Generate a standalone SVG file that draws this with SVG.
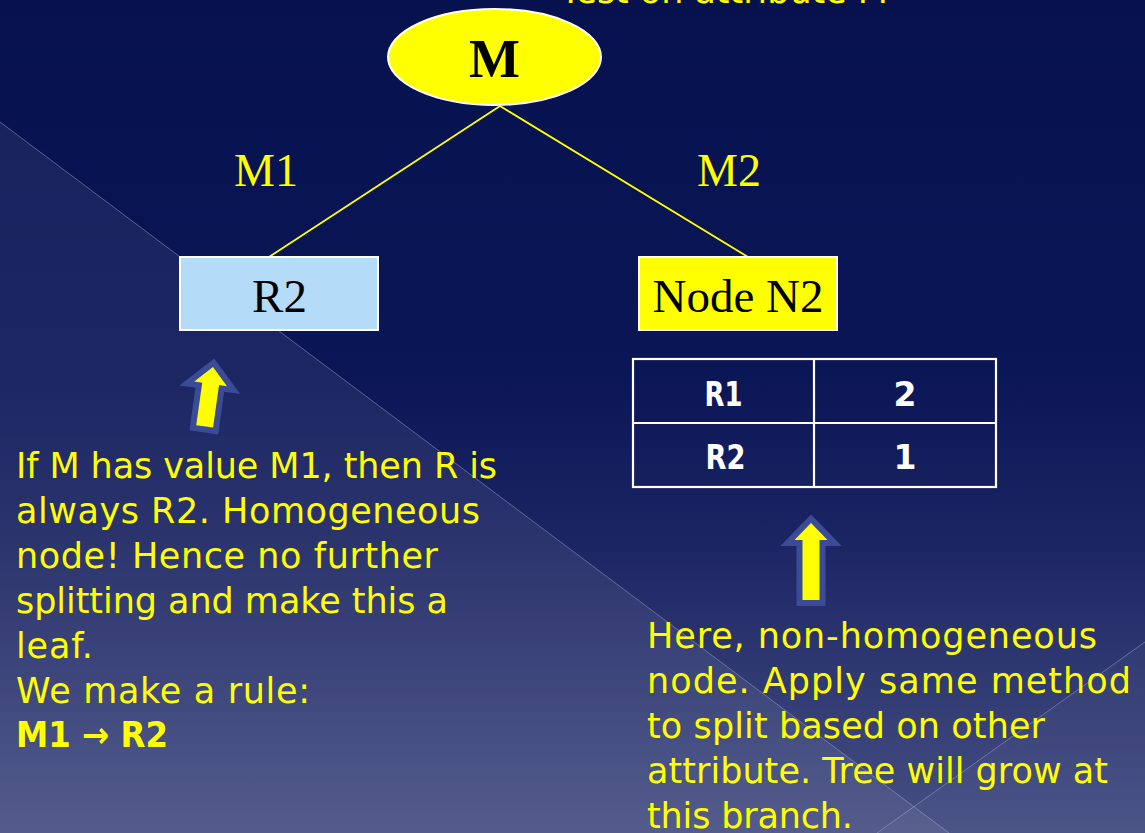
<svg xmlns="http://www.w3.org/2000/svg" width="1145" height="833" viewBox="0 0 1145 833">
  <defs>
    <linearGradient id="bg" x1="0" y1="0" x2="0" y2="1">
      <stop offset="0" stop-color="#06114e"/>
      <stop offset="0.45" stop-color="#0b1657"/>
      <stop offset="0.65" stop-color="#1c2563"/>
      <stop offset="1" stop-color="#465083"/>
    </linearGradient>
    <!-- block arrow pointing up, tip at origin -->
    <path id="upArrow" d="M0 0 L16.5 17 L8.5 17 L8.5 77 L-8.5 77 L-8.5 17 L-16.5 17 Z"/>
    <path id="upArrowShort" d="M0 0 L16.5 17 L8.5 17 L8.5 60 L-8.5 60 L-8.5 17 L-16.5 17 Z"/>
    <style>
      .note { font-family: "DejaVu Sans", "Liberation Sans", sans-serif; font-size: 35px; fill: #ffff00; }
      .noteBold { font-weight: bold; }
      .serif { font-family: "Liberation Serif", "Times New Roman", serif; fill: #000000; text-anchor: middle; }
      .branch { font-family: "Liberation Serif", "Times New Roman", serif; font-size: 46px; fill: #ffff00; text-anchor: middle; }
      .edge { stroke: #ffff00; stroke-width: 1.8; fill: none; }
      .box { stroke: #ffffff; stroke-width: 2; }
      .grid { stroke: #ffffff; stroke-width: 2.2; fill: none; }
      .cell { font-family: "DejaVu Sans", "Liberation Sans", sans-serif; font-weight: bold; font-size: 33px; fill: #ffffff; text-anchor: middle; }
      .arrow { fill: #ffff00; stroke: #3b4b97; stroke-width: 12; stroke-linejoin: miter; paint-order: stroke; }
      .facet { stroke: #aab3d8; stroke-opacity: 0.45; stroke-width: 1; fill: none; }
    </style>
  </defs>

  <!-- backdrop -->
  <g id="background">
    <rect x="0" y="0" width="1145" height="833" fill="url(#bg)"/>
    <polygon points="0,122 949,833 0,833" fill="#ffffff" fill-opacity="0.07"/>
    <polygon points="877,833 1145,642 1145,833" fill="#ffffff" fill-opacity="0.03"/>
    <line class="facet" x1="0" y1="122" x2="949" y2="833"/>
    <line class="facet" x1="877" y1="833" x2="1145" y2="642"/>
  </g>

  <!-- heading, cut at the top edge -->
  <text class="note" x="560" y="3" textLength="328" lengthAdjust="spacingAndGlyphs">Test on attribute M</text>

  <!-- tree edges -->
  <g id="connectors">
    <line class="edge" x1="500" y1="106" x2="269" y2="257"/>
    <line class="edge" x1="500" y1="106" x2="748" y2="257"/>
  </g>

  <g id="node-M">
    <ellipse cx="494.5" cy="57" rx="106.5" ry="48" fill="#ffff00" stroke="#ffffff" stroke-width="2"/>
    <text class="serif" x="494.5" y="77" font-size="54" font-weight="bold">M</text>
  </g>

  <g id="label-M1">
    <text class="branch" x="266" y="186">M1</text>
  </g>
  <g id="label-M2">
    <text class="branch" x="729" y="186">M2</text>
  </g>

  <g id="node-R2">
    <rect class="box" x="180" y="257" width="198" height="73" fill="#b4dcf8"/>
    <text class="serif" x="279.5" y="312" font-size="47">R2</text>
  </g>

  <g id="node-N2">
    <rect class="box" x="639" y="257" width="198" height="73" fill="#ffff00"/>
    <text class="serif" x="738" y="312" font-size="47">Node N2</text>
  </g>

  <!-- class counts at N2 -->
  <g id="count-table">
    <rect class="grid" x="633" y="359" width="363" height="128"/>
    <line class="grid" x1="814" y1="359" x2="814" y2="487"/>
    <line class="grid" x1="633" y1="423" x2="996" y2="423"/>
    <text class="cell" x="723.5" y="406" textLength="38" lengthAdjust="spacingAndGlyphs">R1</text>
    <text class="cell" x="905" y="406">2</text>
    <text class="cell" x="725.5" y="469" textLength="40" lengthAdjust="spacingAndGlyphs">R2</text>
    <text class="cell" x="905" y="469">1</text>
  </g>

  <g id="pointer-left">
    <use href="#upArrowShort" class="arrow" transform="translate(213 367) rotate(8)"/>
  </g>
  <g id="pointer-right">
    <use href="#upArrow" class="arrow" transform="translate(811 523)"/>
  </g>

  <g id="note-left">
    <text class="note" x="16" y="478" textLength="481" lengthAdjust="spacing">If M has value M1, then R is</text>
    <text class="note" x="16" y="523" textLength="464" lengthAdjust="spacing">always R2. Homogeneous</text>
    <text class="note" x="16" y="568" textLength="422" lengthAdjust="spacing">node! Hence no further</text>
    <text class="note" x="16" y="613" textLength="432" lengthAdjust="spacing">splitting and make this a</text>
    <text class="note" x="16" y="658" textLength="77" lengthAdjust="spacing">leaf.</text>
    <text class="note" x="16" y="703" textLength="294" lengthAdjust="spacing">We make a rule:</text>
    <text class="note noteBold" x="16" y="747" textLength="152" lengthAdjust="spacingAndGlyphs">M1 → R2</text>
  </g>

  <g id="note-right">
    <text class="note" x="647" y="648" textLength="450" lengthAdjust="spacing">Here, non-homogeneous</text>
    <text class="note" x="647" y="693" textLength="484" lengthAdjust="spacing">node. Apply same method</text>
    <text class="note" x="647" y="738" textLength="398" lengthAdjust="spacing">to split based on other</text>
    <text class="note" x="647" y="783" textLength="461" lengthAdjust="spacing">attribute. Tree will grow at</text>
    <text class="note" x="647" y="828" textLength="206" lengthAdjust="spacing">this branch.</text>
  </g>
</svg>
